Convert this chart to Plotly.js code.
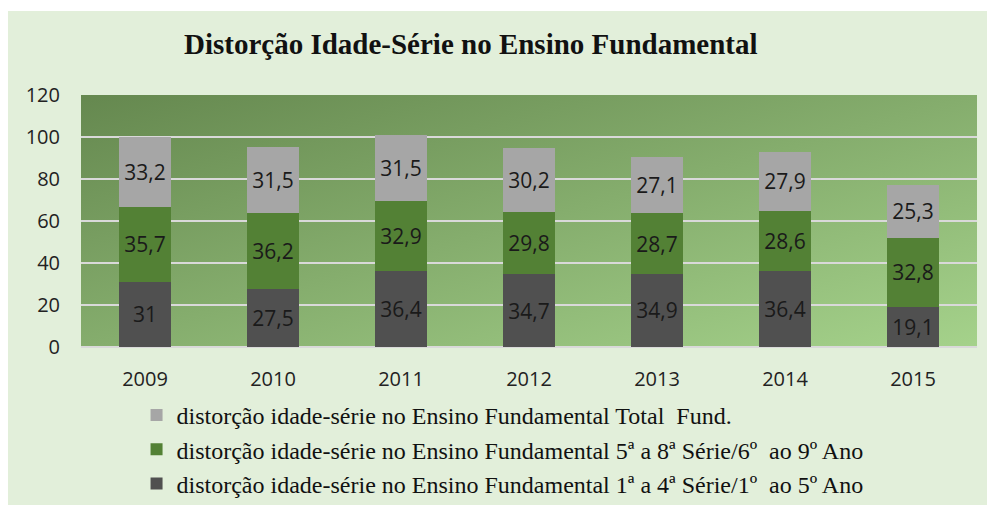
<!DOCTYPE html>
<html>
<head>
<meta charset="utf-8">
<script src="https://cdn.plot.ly/plotly-3.0.1.min.js"></script>
<style>html,body{margin:0;padding:0;background:#ffffff;}#chart{width:987px;height:505px;}</style>
</head>
<body>
<div id="chart"></div>
<script>
const years = ['2009','2010','2011','2012','2013','2014','2015'];
const serieAnosIniciais = [31, 27.5, 36.4, 34.7, 34.9, 36.4, 19.1];
const serieAnosFinais = [35.7, 36.2, 32.9, 29.8, 28.7, 28.6, 32.8];
const serieTotal = [33.2, 31.5, 31.5, 30.2, 27.1, 27.9, 25.3];
const seriesNames = [
  'distorção idade-série no Ensino Fundamental 1ª a 4ª Série/1º  ao 5º Ano',
  'distorção idade-série no Ensino Fundamental 5ª a 8ª Série/6º  ao 9º Ano',
  'distorção idade-série no Ensino Fundamental Total  Fund.'
];
const yTicks = [0, 20, 40, 60, 80, 100, 120];

const fmt = v => String(v).replace('.', ',');
const labelFont = {family: 'Open Sans, Liberation Sans, sans-serif', size: 21, color: '#1a1a1a'};

function bar(vals, name, color, rank) {
  return {
    type: 'bar', x: years, y: vals, name: name, legendrank: rank,
    marker: {color: color, line: {width: 0}},
    text: vals.map(fmt), textposition: 'inside', insidetextanchor: 'middle',
    textangle: 0, constraintext: 'none',
    textfont: labelFont, hoverinfo: 'skip'
  };
}

const data = [
  bar(serieAnosIniciais, seriesNames[0], '#505050', 3),
  bar(serieAnosFinais, seriesNames[1], '#538135', 2),
  bar(serieTotal, seriesNames[2], '#a6a6a6', 1)
];

const svg = '<svg xmlns="http://www.w3.org/2000/svg" width="896" height="252" preserveAspectRatio="none">' +
  '<defs><linearGradient id="g" x1="0" y1="0" x2="1" y2="1">' +
  '<stop offset="0" stop-color="#65884f"/><stop offset="1" stop-color="#a5d28b"/>' +
  '</linearGradient></defs><rect width="896" height="252" fill="url(#g)"/></svg>';
const bgUri = 'data:image/svg+xml;base64,' + btoa(svg);

const layout = {
  width: 987, height: 505,
  paper_bgcolor: '#e2efda',
  plot_bgcolor: 'rgba(0,0,0,0)',
  margin: {l: 81, r: 10, t: 95, b: 158, autoexpand: false},
  barmode: 'stack',
  bargap: 0.6,
  title: {
    text: '<b>Distorção Idade-Série no Ensino Fundamental</b>',
    font: {family: 'Liberation Serif, Times New Roman, serif', size: 29, color: '#111111'},
    x: 0.435, xanchor: 'center', xref: 'paper',
    y: 0.913, yanchor: 'middle', yref: 'container'
  },
  xaxis: {
    type: 'category', showgrid: false, zeroline: false, showline: false,
    ticks: '', ticklabelstandoff: 18,
    tickfont: {family: 'Open Sans, Liberation Sans, sans-serif', size: 20, color: '#222222'}
  },
  yaxis: {
    range: [0, 120], tickvals: yTicks, ticktext: yTicks.map(String),
    showgrid: true, gridcolor: '#d9d9d9', gridwidth: 2,
    zeroline: true, zerolinecolor: '#d9d9d9', zerolinewidth: 2,
    showline: false, ticks: '', ticklabelstandoff: 20,
    tickfont: {family: 'Open Sans, Liberation Sans, sans-serif', size: 20, color: '#222222'}
  },
  images: [{
    source: bgUri, xref: 'paper', yref: 'paper', x: 0, y: 1,
    sizex: 1, sizey: 1, sizing: 'stretch', xanchor: 'left', yanchor: 'top', layer: 'below'
  }],
  shapes: [
    {type: 'rect', xref: 'paper', yref: 'paper', x0: -0.2, x1: 1.2, y0: 1.333, y1: 1.4, fillcolor: '#ffffff', line: {width: 0}, layer: 'below'},
    {type: 'rect', xref: 'paper', yref: 'paper', x0: -0.1, x1: -0.0815, y0: -0.7, y1: 1.4, fillcolor: '#ffffff', line: {width: 0}, layer: 'below'}
  ],
  showlegend: true,
  legend: {
    orientation: 'v', traceorder: 'normal',
    x: 0.062, xanchor: 'left', xref: 'paper',
    y: 0.222, yanchor: 'top', yref: 'container',
    bgcolor: 'rgba(0,0,0,0)',
    font: {family: 'Liberation Serif, Times New Roman, serif', size: 24, color: '#111111'},
    itemwidth: 30
  }
};

Plotly.newPlot('chart', data, layout, {displayModeBar: false, staticPlot: true});
</script>
</body>
</html>
